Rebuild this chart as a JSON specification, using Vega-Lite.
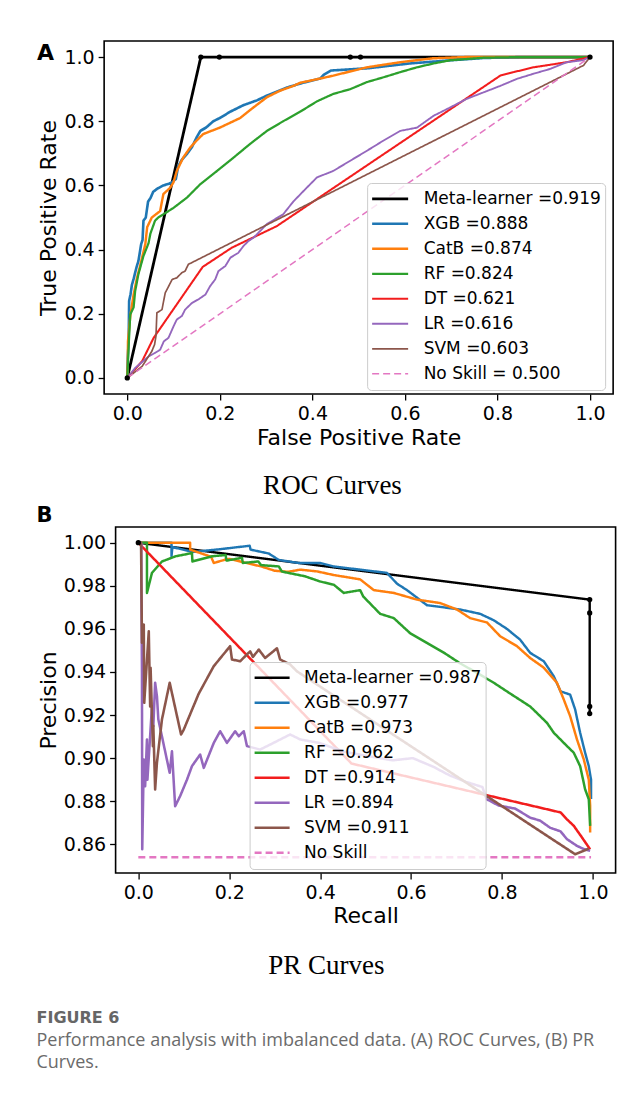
{
"$schema": "https://vega.github.io/schema/vega-lite/v6.json",
"background": "white",
"padding": {"left": 36, "top": 40, "right": 10, "bottom": 10},
"datasets": {
"roc": [
{"model":"Meta-learner =0.919","fpr":0,"tpr":0},{"model":"Meta-learner =0.919","fpr":0.159,"tpr":1},{"model":"Meta-learner =0.919","fpr":0.199,"tpr":1},{"model":"Meta-learner =0.919","fpr":0.482,"tpr":1},{"model":"Meta-learner =0.919","fpr":0.504,"tpr":1},{"model":"Meta-learner =0.919","fpr":1,"tpr":1},
{"model":"XGB =0.888","fpr":0,"tpr":0},{"model":"XGB =0.888","fpr":0.001,"tpr":0.06},{"model":"XGB =0.888","fpr":0.003,"tpr":0.114},{"model":"XGB =0.888","fpr":0.004,"tpr":0.24},{"model":"XGB =0.888","fpr":0.007,"tpr":0.26},{"model":"XGB =0.888","fpr":0.01,"tpr":0.29},{"model":"XGB =0.888","fpr":0.014,"tpr":0.31},{"model":"XGB =0.888","fpr":0.017,"tpr":0.328},{"model":"XGB =0.888","fpr":0.02,"tpr":0.345},{"model":"XGB =0.888","fpr":0.024,"tpr":0.364},{"model":"XGB =0.888","fpr":0.027,"tpr":0.39},{"model":"XGB =0.888","fpr":0.03,"tpr":0.417},{"model":"XGB =0.888","fpr":0.033,"tpr":0.43},{"model":"XGB =0.888","fpr":0.035,"tpr":0.49},{"model":"XGB =0.888","fpr":0.04,"tpr":0.5},{"model":"XGB =0.888","fpr":0.045,"tpr":0.55},{"model":"XGB =0.888","fpr":0.05,"tpr":0.56},{"model":"XGB =0.888","fpr":0.056,"tpr":0.58},{"model":"XGB =0.888","fpr":0.065,"tpr":0.59},{"model":"XGB =0.888","fpr":0.078,"tpr":0.6},{"model":"XGB =0.888","fpr":0.09,"tpr":0.605},{"model":"XGB =0.888","fpr":0.097,"tpr":0.61},{"model":"XGB =0.888","fpr":0.105,"tpr":0.62},{"model":"XGB =0.888","fpr":0.11,"tpr":0.66},{"model":"XGB =0.888","fpr":0.118,"tpr":0.68},{"model":"XGB =0.888","fpr":0.13,"tpr":0.7},{"model":"XGB =0.888","fpr":0.14,"tpr":0.72},{"model":"XGB =0.888","fpr":0.15,"tpr":0.75},{"model":"XGB =0.888","fpr":0.158,"tpr":0.77},{"model":"XGB =0.888","fpr":0.17,"tpr":0.78},{"model":"XGB =0.888","fpr":0.186,"tpr":0.8},{"model":"XGB =0.888","fpr":0.2,"tpr":0.81},{"model":"XGB =0.888","fpr":0.223,"tpr":0.83},{"model":"XGB =0.888","fpr":0.251,"tpr":0.85},{"model":"XGB =0.888","fpr":0.28,"tpr":0.865},{"model":"XGB =0.888","fpr":0.302,"tpr":0.88},{"model":"XGB =0.888","fpr":0.345,"tpr":0.905},{"model":"XGB =0.888","fpr":0.38,"tpr":0.92},{"model":"XGB =0.888","fpr":0.417,"tpr":0.933},{"model":"XGB =0.888","fpr":0.425,"tpr":0.945},{"model":"XGB =0.888","fpr":0.44,"tpr":0.958},{"model":"XGB =0.888","fpr":0.52,"tpr":0.965},{"model":"XGB =0.888","fpr":0.61,"tpr":0.98},{"model":"XGB =0.888","fpr":0.7,"tpr":0.99},{"model":"XGB =0.888","fpr":0.77,"tpr":0.997},{"model":"XGB =0.888","fpr":0.85,"tpr":1},{"model":"XGB =0.888","fpr":1,"tpr":1},
{"model":"CatB =0.874","fpr":0,"tpr":0},{"model":"CatB =0.874","fpr":0.001,"tpr":0.05},{"model":"CatB =0.874","fpr":0.0015,"tpr":0.114},{"model":"CatB =0.874","fpr":0.0065,"tpr":0.193},{"model":"CatB =0.874","fpr":0.0137,"tpr":0.26},{"model":"CatB =0.874","fpr":0.021,"tpr":0.312},{"model":"CatB =0.874","fpr":0.027,"tpr":0.345},{"model":"CatB =0.874","fpr":0.032,"tpr":0.375},{"model":"CatB =0.874","fpr":0.039,"tpr":0.417},{"model":"CatB =0.874","fpr":0.043,"tpr":0.47},{"model":"CatB =0.874","fpr":0.053,"tpr":0.5},{"model":"CatB =0.874","fpr":0.062,"tpr":0.51},{"model":"CatB =0.874","fpr":0.071,"tpr":0.52},{"model":"CatB =0.874","fpr":0.078,"tpr":0.573},{"model":"CatB =0.874","fpr":0.093,"tpr":0.593},{"model":"CatB =0.874","fpr":0.1,"tpr":0.61},{"model":"CatB =0.874","fpr":0.107,"tpr":0.645},{"model":"CatB =0.874","fpr":0.121,"tpr":0.687},{"model":"CatB =0.874","fpr":0.136,"tpr":0.718},{"model":"CatB =0.874","fpr":0.15,"tpr":0.74},{"model":"CatB =0.874","fpr":0.164,"tpr":0.76},{"model":"CatB =0.874","fpr":0.2,"tpr":0.78},{"model":"CatB =0.874","fpr":0.244,"tpr":0.81},{"model":"CatB =0.874","fpr":0.27,"tpr":0.84},{"model":"CatB =0.874","fpr":0.302,"tpr":0.875},{"model":"CatB =0.874","fpr":0.33,"tpr":0.895},{"model":"CatB =0.874","fpr":0.359,"tpr":0.91},{"model":"CatB =0.874","fpr":0.374,"tpr":0.92},{"model":"CatB =0.874","fpr":0.417,"tpr":0.933},{"model":"CatB =0.874","fpr":0.445,"tpr":0.942},{"model":"CatB =0.874","fpr":0.518,"tpr":0.968},{"model":"CatB =0.874","fpr":0.59,"tpr":0.984},{"model":"CatB =0.874","fpr":0.66,"tpr":0.996},{"model":"CatB =0.874","fpr":0.73,"tpr":1},{"model":"CatB =0.874","fpr":1,"tpr":1},
{"model":"RF =0.824","fpr":0,"tpr":0},{"model":"RF =0.824","fpr":0.001,"tpr":0.03},{"model":"RF =0.824","fpr":0.003,"tpr":0.1},{"model":"RF =0.824","fpr":0.0065,"tpr":0.198},{"model":"RF =0.824","fpr":0.0137,"tpr":0.22},{"model":"RF =0.824","fpr":0.017,"tpr":0.27},{"model":"RF =0.824","fpr":0.024,"tpr":0.323},{"model":"RF =0.824","fpr":0.035,"tpr":0.38},{"model":"RF =0.824","fpr":0.046,"tpr":0.42},{"model":"RF =0.824","fpr":0.05,"tpr":0.45},{"model":"RF =0.824","fpr":0.06,"tpr":0.49},{"model":"RF =0.824","fpr":0.067,"tpr":0.5},{"model":"RF =0.824","fpr":0.1,"tpr":0.53},{"model":"RF =0.824","fpr":0.129,"tpr":0.562},{"model":"RF =0.824","fpr":0.158,"tpr":0.604},{"model":"RF =0.824","fpr":0.194,"tpr":0.645},{"model":"RF =0.824","fpr":0.23,"tpr":0.687},{"model":"RF =0.824","fpr":0.266,"tpr":0.73},{"model":"RF =0.824","fpr":0.302,"tpr":0.77},{"model":"RF =0.824","fpr":0.337,"tpr":0.8},{"model":"RF =0.824","fpr":0.374,"tpr":0.83},{"model":"RF =0.824","fpr":0.41,"tpr":0.862},{"model":"RF =0.824","fpr":0.445,"tpr":0.885},{"model":"RF =0.824","fpr":0.482,"tpr":0.9},{"model":"RF =0.824","fpr":0.518,"tpr":0.922},{"model":"RF =0.824","fpr":0.554,"tpr":0.937},{"model":"RF =0.824","fpr":0.59,"tpr":0.953},{"model":"RF =0.824","fpr":0.626,"tpr":0.968},{"model":"RF =0.824","fpr":0.662,"tpr":0.98},{"model":"RF =0.824","fpr":0.698,"tpr":0.99},{"model":"RF =0.824","fpr":0.77,"tpr":0.998},{"model":"RF =0.824","fpr":0.85,"tpr":1},{"model":"RF =0.824","fpr":1,"tpr":1},
{"model":"DT =0.621","fpr":0,"tpr":0},{"model":"DT =0.621","fpr":0.032,"tpr":0.052},{"model":"DT =0.621","fpr":0.057,"tpr":0.125},{"model":"DT =0.621","fpr":0.163,"tpr":0.346},{"model":"DT =0.621","fpr":0.226,"tpr":0.406},{"model":"DT =0.621","fpr":0.323,"tpr":0.473},{"model":"DT =0.621","fpr":0.806,"tpr":0.942},{"model":"DT =0.621","fpr":0.835,"tpr":0.953},{"model":"DT =0.621","fpr":0.878,"tpr":0.968},{"model":"DT =0.621","fpr":0.95,"tpr":0.984},{"model":"DT =0.621","fpr":1,"tpr":1},
{"model":"LR =0.616","fpr":0,"tpr":0},{"model":"LR =0.616","fpr":0.017,"tpr":0.031},{"model":"LR =0.616","fpr":0.046,"tpr":0.067},{"model":"LR =0.616","fpr":0.06,"tpr":0.078},{"model":"LR =0.616","fpr":0.071,"tpr":0.088},{"model":"LR =0.616","fpr":0.079,"tpr":0.114},{"model":"LR =0.616","fpr":0.089,"tpr":0.125},{"model":"LR =0.616","fpr":0.1,"tpr":0.161},{"model":"LR =0.616","fpr":0.107,"tpr":0.182},{"model":"LR =0.616","fpr":0.118,"tpr":0.193},{"model":"LR =0.616","fpr":0.125,"tpr":0.213},{"model":"LR =0.616","fpr":0.14,"tpr":0.234},{"model":"LR =0.616","fpr":0.154,"tpr":0.245},{"model":"LR =0.616","fpr":0.169,"tpr":0.26},{"model":"LR =0.616","fpr":0.179,"tpr":0.286},{"model":"LR =0.616","fpr":0.19,"tpr":0.307},{"model":"LR =0.616","fpr":0.197,"tpr":0.333},{"model":"LR =0.616","fpr":0.212,"tpr":0.349},{"model":"LR =0.616","fpr":0.223,"tpr":0.375},{"model":"LR =0.616","fpr":0.24,"tpr":0.39},{"model":"LR =0.616","fpr":0.251,"tpr":0.411},{"model":"LR =0.616","fpr":0.262,"tpr":0.427},{"model":"LR =0.616","fpr":0.273,"tpr":0.437},{"model":"LR =0.616","fpr":0.302,"tpr":0.48},{"model":"LR =0.616","fpr":0.337,"tpr":0.51},{"model":"LR =0.616","fpr":0.359,"tpr":0.55},{"model":"LR =0.616","fpr":0.388,"tpr":0.593},{"model":"LR =0.616","fpr":0.41,"tpr":0.625},{"model":"LR =0.616","fpr":0.445,"tpr":0.645},{"model":"LR =0.616","fpr":0.482,"tpr":0.677},{"model":"LR =0.616","fpr":0.518,"tpr":0.708},{"model":"LR =0.616","fpr":0.554,"tpr":0.74},{"model":"LR =0.616","fpr":0.59,"tpr":0.77},{"model":"LR =0.616","fpr":0.626,"tpr":0.78},{"model":"LR =0.616","fpr":0.662,"tpr":0.817},{"model":"LR =0.616","fpr":0.698,"tpr":0.843},{"model":"LR =0.616","fpr":0.734,"tpr":0.87},{"model":"LR =0.616","fpr":0.77,"tpr":0.89},{"model":"LR =0.616","fpr":0.806,"tpr":0.91},{"model":"LR =0.616","fpr":0.842,"tpr":0.932},{"model":"LR =0.616","fpr":0.878,"tpr":0.948},{"model":"LR =0.616","fpr":0.914,"tpr":0.963},{"model":"LR =0.616","fpr":0.95,"tpr":0.984},{"model":"LR =0.616","fpr":0.985,"tpr":0.99},{"model":"LR =0.616","fpr":1,"tpr":1},
{"model":"SVM =0.603","fpr":0,"tpr":0},{"model":"SVM =0.603","fpr":0.032,"tpr":0.036},{"model":"SVM =0.603","fpr":0.053,"tpr":0.083},{"model":"SVM =0.603","fpr":0.059,"tpr":0.104},{"model":"SVM =0.603","fpr":0.062,"tpr":0.13},{"model":"SVM =0.603","fpr":0.064,"tpr":0.203},{"model":"SVM =0.603","fpr":0.075,"tpr":0.213},{"model":"SVM =0.603","fpr":0.082,"tpr":0.265},{"model":"SVM =0.603","fpr":0.097,"tpr":0.307},{"model":"SVM =0.603","fpr":0.107,"tpr":0.312},{"model":"SVM =0.603","fpr":0.118,"tpr":0.328},{"model":"SVM =0.603","fpr":0.125,"tpr":0.333},{"model":"SVM =0.603","fpr":0.132,"tpr":0.354},{"model":"SVM =0.603","fpr":0.986,"tpr":0.974},{"model":"SVM =0.603","fpr":1,"tpr":1},
{"model":"No Skill = 0.500","fpr":0,"tpr":0},{"model":"No Skill = 0.500","fpr":1,"tpr":1}
],
"pr": [
{"model":"Meta-learner =0.987","recall":0,"precision":1},{"model":"Meta-learner =0.987","recall":0.993,"precision":0.9736},{"model":"Meta-learner =0.987","recall":0.993,"precision":0.9674},{"model":"Meta-learner =0.987","recall":0.993,"precision":0.924},{"model":"Meta-learner =0.987","recall":0.993,"precision":0.9207},
{"model":"XGB =0.977","recall":0,"precision":1},{"model":"XGB =0.977","recall":0.073,"precision":1},{"model":"XGB =0.977","recall":0.073,"precision":0.9937},{"model":"XGB =0.977","recall":0.075,"precision":0.998},{"model":"XGB =0.977","recall":0.12,"precision":0.9957},{"model":"XGB =0.977","recall":0.18,"precision":0.997},{"model":"XGB =0.977","recall":0.245,"precision":0.9986},{"model":"XGB =0.977","recall":0.247,"precision":0.9968},{"model":"XGB =0.977","recall":0.287,"precision":0.995},{"model":"XGB =0.977","recall":0.309,"precision":0.992},{"model":"XGB =0.977","recall":0.353,"precision":0.9906},{"model":"XGB =0.977","recall":0.4,"precision":0.9906},{"model":"XGB =0.977","recall":0.429,"precision":0.989},{"model":"XGB =0.977","recall":0.488,"precision":0.9875},{"model":"XGB =0.977","recall":0.547,"precision":0.986},{"model":"XGB =0.977","recall":0.569,"precision":0.981},{"model":"XGB =0.977","recall":0.591,"precision":0.978},{"model":"XGB =0.977","recall":0.635,"precision":0.971},{"model":"XGB =0.977","recall":0.672,"precision":0.97},{"model":"XGB =0.977","recall":0.708,"precision":0.969},{"model":"XGB =0.977","recall":0.752,"precision":0.967},{"model":"XGB =0.977","recall":0.782,"precision":0.964},{"model":"XGB =0.977","recall":0.811,"precision":0.96},{"model":"XGB =0.977","recall":0.84,"precision":0.955},{"model":"XGB =0.977","recall":0.862,"precision":0.9489},{"model":"XGB =0.977","recall":0.892,"precision":0.945},{"model":"XGB =0.977","recall":0.914,"precision":0.938},{"model":"XGB =0.977","recall":0.929,"precision":0.931},{"model":"XGB =0.977","recall":0.95,"precision":0.9295},{"model":"XGB =0.977","recall":0.961,"precision":0.9226},{"model":"XGB =0.977","recall":0.972,"precision":0.9118},{"model":"XGB =0.977","recall":0.983,"precision":0.9025},{"model":"XGB =0.977","recall":0.991,"precision":0.8963},{"model":"XGB =0.977","recall":0.996,"precision":0.89},{"model":"XGB =0.977","recall":0.996,"precision":0.881},
{"model":"CatB =0.973","recall":0,"precision":1},{"model":"CatB =0.973","recall":0.114,"precision":1},{"model":"CatB =0.973","recall":0.114,"precision":0.9968},{"model":"CatB =0.973","recall":0.16,"precision":0.9935},{"model":"CatB =0.973","recall":0.166,"precision":0.9906},{"model":"CatB =0.973","recall":0.192,"precision":0.9922},{"model":"CatB =0.973","recall":0.2,"precision":0.9925},{"model":"CatB =0.973","recall":0.23,"precision":0.991},{"model":"CatB =0.973","recall":0.27,"precision":0.989},{"model":"CatB =0.973","recall":0.3,"precision":0.987},{"model":"CatB =0.973","recall":0.33,"precision":0.9865},{"model":"CatB =0.973","recall":0.356,"precision":0.9875},{"model":"CatB =0.973","recall":0.393,"precision":0.9867},{"model":"CatB =0.973","recall":0.43,"precision":0.985},{"model":"CatB =0.973","recall":0.488,"precision":0.983},{"model":"CatB =0.973","recall":0.518,"precision":0.978},{"model":"CatB =0.973","recall":0.562,"precision":0.9767},{"model":"CatB =0.973","recall":0.613,"precision":0.9736},{"model":"CatB =0.973","recall":0.664,"precision":0.972},{"model":"CatB =0.973","recall":0.701,"precision":0.969},{"model":"CatB =0.973","recall":0.73,"precision":0.965},{"model":"CatB =0.973","recall":0.767,"precision":0.963},{"model":"CatB =0.973","recall":0.796,"precision":0.9566},{"model":"CatB =0.973","recall":0.833,"precision":0.952},{"model":"CatB =0.973","recall":0.862,"precision":0.9465},{"model":"CatB =0.973","recall":0.892,"precision":0.942},{"model":"CatB =0.973","recall":0.921,"precision":0.935},{"model":"CatB =0.973","recall":0.936,"precision":0.9272},{"model":"CatB =0.973","recall":0.95,"precision":0.9195},{"model":"CatB =0.973","recall":0.965,"precision":0.9087},{"model":"CatB =0.973","recall":0.98,"precision":0.8994},{"model":"CatB =0.973","recall":0.991,"precision":0.89},{"model":"CatB =0.973","recall":0.994,"precision":0.878},{"model":"CatB =0.973","recall":0.994,"precision":0.8655},
{"model":"RF =0.962","recall":0,"precision":1},{"model":"RF =0.962","recall":0.019,"precision":1},{"model":"RF =0.962","recall":0.019,"precision":0.9767},{"model":"RF =0.962","recall":0.03,"precision":0.986},{"model":"RF =0.962","recall":0.052,"precision":0.9913},{"model":"RF =0.962","recall":0.082,"precision":0.9937},{"model":"RF =0.962","recall":0.118,"precision":0.9952},{"model":"RF =0.962","recall":0.119,"precision":0.9913},{"model":"RF =0.962","recall":0.162,"precision":0.9937},{"model":"RF =0.962","recall":0.192,"precision":0.9943},{"model":"RF =0.962","recall":0.194,"precision":0.9917},{"model":"RF =0.962","recall":0.228,"precision":0.993},{"model":"RF =0.962","recall":0.23,"precision":0.9906},{"model":"RF =0.962","recall":0.264,"precision":0.9913},{"model":"RF =0.962","recall":0.27,"precision":0.9896},{"model":"RF =0.962","recall":0.309,"precision":0.989},{"model":"RF =0.962","recall":0.316,"precision":0.9866},{"model":"RF =0.962","recall":0.367,"precision":0.9844},{"model":"RF =0.962","recall":0.4,"precision":0.982},{"model":"RF =0.962","recall":0.43,"precision":0.9805},{"model":"RF =0.962","recall":0.452,"precision":0.9767},{"model":"RF =0.962","recall":0.488,"precision":0.978},{"model":"RF =0.962","recall":0.495,"precision":0.975},{"model":"RF =0.962","recall":0.532,"precision":0.967},{"model":"RF =0.962","recall":0.562,"precision":0.965},{"model":"RF =0.962","recall":0.598,"precision":0.958},{"model":"RF =0.962","recall":0.635,"precision":0.9535},{"model":"RF =0.962","recall":0.672,"precision":0.949},{"model":"RF =0.962","recall":0.708,"precision":0.944},{"model":"RF =0.962","recall":0.745,"precision":0.9396},{"model":"RF =0.962","recall":0.782,"precision":0.935},{"model":"RF =0.962","recall":0.818,"precision":0.93},{"model":"RF =0.962","recall":0.862,"precision":0.924},{"model":"RF =0.962","recall":0.884,"precision":0.9195},{"model":"RF =0.962","recall":0.899,"precision":0.9164},{"model":"RF =0.962","recall":0.914,"precision":0.9118},{"model":"RF =0.962","recall":0.936,"precision":0.9071},{"model":"RF =0.962","recall":0.958,"precision":0.9025},{"model":"RF =0.962","recall":0.972,"precision":0.8963},{"model":"RF =0.962","recall":0.983,"precision":0.8855},{"model":"RF =0.962","recall":0.991,"precision":0.8809},{"model":"RF =0.962","recall":0.994,"precision":0.8686},
{"model":"DT =0.914","recall":0,"precision":1},{"model":"DT =0.914","recall":0.469,"precision":0.8975},{"model":"DT =0.914","recall":0.929,"precision":0.8748},{"model":"DT =0.914","recall":0.943,"precision":0.8716},{"model":"DT =0.914","recall":0.958,"precision":0.8686},{"model":"DT =0.914","recall":0.975,"precision":0.8635},{"model":"DT =0.914","recall":0.994,"precision":0.8577},
{"model":"LR =0.894","recall":0,"precision":1},{"model":"LR =0.894","recall":0.0066,"precision":1},{"model":"LR =0.894","recall":0.0066,"precision":0.9828},{"model":"LR =0.894","recall":0.008,"precision":0.9396},{"model":"LR =0.894","recall":0.0086,"precision":0.8577},{"model":"LR =0.894","recall":0.012,"precision":0.8994},{"model":"LR =0.894","recall":0.015,"precision":0.887},{"model":"LR =0.894","recall":0.019,"precision":0.9087},{"model":"LR =0.894","recall":0.02,"precision":0.89},{"model":"LR =0.894","recall":0.03,"precision":0.924},{"model":"LR =0.894","recall":0.033,"precision":0.9148},{"model":"LR =0.894","recall":0.037,"precision":0.935},{"model":"LR =0.894","recall":0.041,"precision":0.9287},{"model":"LR =0.894","recall":0.044,"precision":0.918},{"model":"LR =0.894","recall":0.069,"precision":0.8932},{"model":"LR =0.894","recall":0.074,"precision":0.9032},{"model":"LR =0.894","recall":0.081,"precision":0.8777},{"model":"LR =0.894","recall":0.092,"precision":0.8824},{"model":"LR =0.894","recall":0.107,"precision":0.89},{"model":"LR =0.894","recall":0.118,"precision":0.8963},{"model":"LR =0.894","recall":0.136,"precision":0.9017},{"model":"LR =0.894","recall":0.144,"precision":0.8955},{"model":"LR =0.894","recall":0.166,"precision":0.9071},{"model":"LR =0.894","recall":0.18,"precision":0.9125},{"model":"LR =0.894","recall":0.195,"precision":0.9071},{"model":"LR =0.894","recall":0.213,"precision":0.9125},{"model":"LR =0.894","recall":0.221,"precision":0.9102},{"model":"LR =0.894","recall":0.232,"precision":0.9125},{"model":"LR =0.894","recall":0.239,"precision":0.9056},{"model":"LR =0.894","recall":0.268,"precision":0.904},{"model":"LR =0.894","recall":0.29,"precision":0.9063},{"model":"LR =0.894","recall":0.334,"precision":0.911},{"model":"LR =0.894","recall":0.356,"precision":0.9087},{"model":"LR =0.894","recall":0.398,"precision":0.9071},{"model":"LR =0.894","recall":0.452,"precision":0.903},{"model":"LR =0.894","recall":0.505,"precision":0.901},{"model":"LR =0.894","recall":0.559,"precision":0.899},{"model":"LR =0.894","recall":0.604,"precision":0.9},{"model":"LR =0.894","recall":0.649,"precision":0.896},{"model":"LR =0.894","recall":0.685,"precision":0.892},{"model":"LR =0.894","recall":0.721,"precision":0.889},{"model":"LR =0.894","recall":0.757,"precision":0.8866},{"model":"LR =0.894","recall":0.766,"precision":0.881},{"model":"LR =0.894","recall":0.793,"precision":0.878},{"model":"LR =0.894","recall":0.829,"precision":0.8766},{"model":"LR =0.894","recall":0.862,"precision":0.8724},{"model":"LR =0.894","recall":0.884,"precision":0.871},{"model":"LR =0.894","recall":0.906,"precision":0.8677},{"model":"LR =0.894","recall":0.929,"precision":0.866},{"model":"LR =0.894","recall":0.943,"precision":0.8624},{"model":"LR =0.894","recall":0.965,"precision":0.8593},{"model":"LR =0.894","recall":0.98,"precision":0.8578},{"model":"LR =0.894","recall":0.994,"precision":0.857},
{"model":"SVM =0.911","recall":0,"precision":1},{"model":"SVM =0.911","recall":0.006,"precision":1},{"model":"SVM =0.911","recall":0.008,"precision":0.9536},{"model":"SVM =0.911","recall":0.012,"precision":0.962},{"model":"SVM =0.911","recall":0.013,"precision":0.9257},{"model":"SVM =0.911","recall":0.023,"precision":0.9589},{"model":"SVM =0.911","recall":0.026,"precision":0.924},{"model":"SVM =0.911","recall":0.027,"precision":0.942},{"model":"SVM =0.911","recall":0.032,"precision":0.9056},{"model":"SVM =0.911","recall":0.033,"precision":0.915},{"model":"SVM =0.911","recall":0.037,"precision":0.8855},{"model":"SVM =0.911","recall":0.041,"precision":0.898},{"model":"SVM =0.911","recall":0.052,"precision":0.918},{"model":"SVM =0.911","recall":0.069,"precision":0.935},{"model":"SVM =0.911","recall":0.094,"precision":0.911},{"model":"SVM =0.911","recall":0.1,"precision":0.9133},{"model":"SVM =0.911","recall":0.133,"precision":0.93},{"model":"SVM =0.911","recall":0.166,"precision":0.9427},{"model":"SVM =0.911","recall":0.202,"precision":0.952},{"model":"SVM =0.911","recall":0.206,"precision":0.9458},{"model":"SVM =0.911","recall":0.224,"precision":0.945},{"model":"SVM =0.911","recall":0.246,"precision":0.9496},{"model":"SVM =0.911","recall":0.252,"precision":0.947},{"model":"SVM =0.911","recall":0.265,"precision":0.9504},{"model":"SVM =0.911","recall":0.279,"precision":0.9465},{"model":"SVM =0.911","recall":0.305,"precision":0.951},{"model":"SVM =0.911","recall":0.312,"precision":0.9458},{"model":"SVM =0.911","recall":0.334,"precision":0.9435},{"model":"SVM =0.911","recall":0.349,"precision":0.9403},{"model":"SVM =0.911","recall":0.961,"precision":0.8554},{"model":"SVM =0.911","recall":0.991,"precision":0.858},
{"model":"No Skill","recall":0,"precision":0.854},{"model":"No Skill","recall":0.996,"precision":0.854}
]
},
"title": {
"text": "FIGURE 6",
"subtitle": ["Performance analysis with imbalanced data. (A) ROC Curves, (B) PR", "Curves."],
"orient": "bottom", "anchor": "start", "frame": "bounds",
"font": "DejaVu Sans", "fontSize": 16, "fontWeight": "bold", "color": "#666666",
"subtitleFont": "Open Sans", "subtitleFontSize": 18, "subtitleColor": "#6b6b6b", "subtitleLineHeight": 22, "subtitlePadding": 6,
"offset": 30
},
"concat": [
{
"title": {"text": "A", "anchor": "start", "frame": "bounds", "orient": "top", "font": "DejaVu Sans", "fontSize": 22, "fontWeight": "bold", "color": "black", "offset": 0, "dy": 25},
"vconcat": [
{
"width": 509, "height": 353,
"data": {"name": "roc"},
"title": {"text": "ROC Curves", "orient": "bottom", "anchor": "middle", "frame": "bounds", "font": "Liberation Serif", "fontSize": 27, "fontWeight": "normal", "color": "black", "offset": 25},
"encoding": {
"x": {"field": "fpr", "type": "quantitative", "scale": {"domain": [-0.05, 1.05], "nice": false, "zero": false}, "axis": {"title": "False Positive Rate", "values": [0, 0.2, 0.4, 0.6, 0.8, 1], "format": ".1f", "titlePadding": 4}}
},
"layer": [
{
"mark": {"type": "line", "strokeJoin": "round", "clip": true},
"encoding": {
"y": {"field": "tpr", "type": "quantitative", "scale": {"domain": [-0.05, 1.05], "nice": false, "zero": false}, "axis": {"title": "True Positive Rate", "values": [0, 0.2, 0.4, 0.6, 0.8, 1], "format": ".1f", "titlePadding": 3}},
"color": {"field": "model", "type": "nominal", "scale": {"domain": ["Meta-learner =0.919", "XGB =0.888", "CatB =0.874", "RF =0.824", "DT =0.621", "LR =0.616", "SVM =0.603", "No Skill = 0.500"], "range": ["black", "#1f77b4", "#ff7f0e", "#2ca02c", "#f21d1d", "#9467bd", "#8c564b", "#e377c2"]},
"legend": {"title": null, "orient": "none", "legendX": 263, "legendY": 142, "symbolType": "stroke", "symbolSize": 1296, "clipHeight": 24.6, "rowPadding": 0, "labelFont": "DejaVu Sans", "labelFontSize": 17, "labelColor": "black", "labelOffset": 14, "labelLimit": 400, "padding": 3.5, "fillColor": "rgba(255,255,255,0.8)", "strokeColor": "#cccccc", "cornerRadius": 4}},
"strokeWidth": {"field": "model", "type": "nominal", "scale": {"domain": ["Meta-learner =0.919", "XGB =0.888", "CatB =0.874", "RF =0.824", "DT =0.621", "LR =0.616", "SVM =0.603", "No Skill = 0.500"], "range": [2.8, 1.5, 2, 1.5, 1.1, 1.6, 1.3, 1.8]}},
"strokeDash": {"field": "model", "type": "nominal", "scale": {"domain": ["Meta-learner =0.919", "XGB =0.888", "CatB =0.874", "RF =0.824", "DT =0.621", "LR =0.616", "SVM =0.603", "No Skill = 0.500"], "range": [[1, 0], [1, 0], [1, 0], [1, 0], [1, 0], [1, 0], [1, 0], [7, 4]]}}
}
},
{
"transform": [{"filter": "datum.model === 'Meta-learner =0.919'"}],
"mark": {"type": "point", "filled": true, "size": 28, "color": "black", "opacity": 1},
"encoding": {
"y": {"field": "tpr", "type": "quantitative", "scale": {"domain": [-0.05, 1.05], "nice": false, "zero": false}, "axis": {"orient": "right", "title": null, "values": [1], "format": ".1f", "labelFontSize": 7.5, "labelPadding": 2, "labelColor": "transparent", "ticks": false, "domain": false, "grid": false}}
}
}
],
"resolve": {"axis": {"y": "independent"}}
}
]
},
{
"title": {"text": "B", "anchor": "start", "frame": "bounds", "orient": "top", "font": "DejaVu Sans", "fontSize": 21, "fontWeight": "bold", "color": "black", "offset": 0},
"vconcat": [
{
"width": 500, "height": 346,
"data": {"name": "pr"},
"title": {"text": "PR Curves", "orient": "bottom", "anchor": "middle", "frame": "bounds", "font": "Liberation Serif", "fontSize": 27, "fontWeight": "normal", "color": "black", "offset": 27},
"encoding": {
"x": {"field": "recall", "type": "quantitative", "scale": {"domain": [-0.05, 1.05], "nice": false, "zero": false}, "axis": {"title": "Recall", "values": [0, 0.2, 0.4, 0.6, 0.8, 1], "format": ".1f", "titlePadding": 3}},
"y": {"field": "precision", "type": "quantitative", "scale": {"domain": [0.8467, 1.0073], "nice": false, "zero": false}, "axis": {"title": "Precision", "values": [0.86, 0.88, 0.9, 0.92, 0.94, 0.96, 0.98, 1], "format": ".2f", "titlePadding": 3}}
},
"layer": [
{
"mark": {"type": "line", "strokeJoin": "round", "clip": true},
"encoding": {
"color": {"field": "model", "type": "nominal", "scale": {"domain": ["Meta-learner =0.987", "XGB =0.977", "CatB =0.973", "RF =0.962", "DT =0.914", "LR =0.894", "SVM =0.911", "No Skill"], "range": ["black", "#1f77b4", "#ff7f0e", "#2ca02c", "#f21d1d", "#9467bd", "#8c564b", "#e377c2"]},
"legend": {"title": null, "orient": "none", "legendX": 134, "legendY": 135, "symbolType": "stroke", "symbolSize": 1225, "clipHeight": 24.6, "rowPadding": 0, "labelFont": "DejaVu Sans", "labelFontSize": 17, "labelColor": "black", "labelOffset": 13, "labelLimit": 400, "padding": 3.5, "fillColor": "rgba(255,255,255,0.8)", "strokeColor": "#cccccc", "cornerRadius": 4}},
"strokeWidth": {"field": "model", "type": "nominal", "scale": {"domain": ["Meta-learner =0.987", "XGB =0.977", "CatB =0.973", "RF =0.962", "DT =0.914", "LR =0.894", "SVM =0.911", "No Skill"], "range": [2.4, 2.6, 3, 3, 1.1, 2, 2.4, 1.8]}},
"strokeDash": {"field": "model", "type": "nominal", "scale": {"domain": ["Meta-learner =0.987", "XGB =0.977", "CatB =0.973", "RF =0.962", "DT =0.914", "LR =0.894", "SVM =0.911", "No Skill"], "range": [[1, 0], [1, 0], [1, 0], [1, 0], [1, 0], [1, 0], [1, 0], [7, 4]]}}
}
},
{
"transform": [{"filter": "datum.model === 'Meta-learner =0.987'"}],
"mark": {"type": "point", "filled": true, "size": 28, "color": "black", "opacity": 1}
}
]
}
]
}
],
"columns": 1,
"align": {"column": "each", "row": "none"},
"center": true,
"spacing": 5,
"resolve": {"scale": {"x": "independent", "y": "independent", "color": "independent", "strokeWidth": "independent", "strokeDash": "independent"}},
"config": {
"font": "DejaVu Sans",
"view": {"stroke": "black", "strokeWidth": 1.6},
"axis": {"domain": false, "grid": false, "ticks": true, "tickColor": "black", "tickWidth": 1.3, "tickSize": 6, "labelFont": "DejaVu Sans", "labelFontSize": 19, "labelColor": "black", "labelPadding": 4, "labelOverlap": false, "titleFont": "DejaVu Sans", "titleFontSize": 22, "titleFontWeight": "normal", "titleColor": "black"}
}
}
